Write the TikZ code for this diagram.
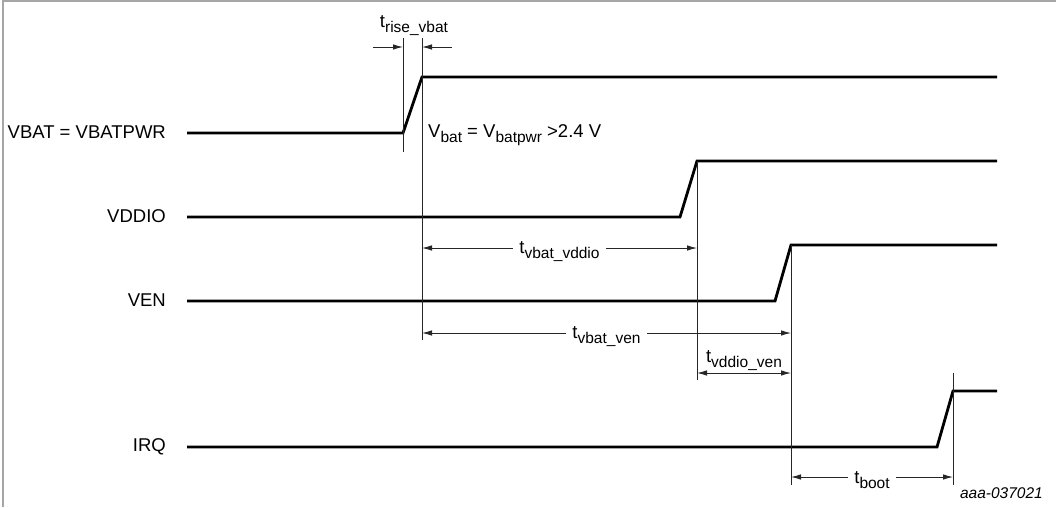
\documentclass[tikz,border=0pt]{standalone}
\usepackage{fontspec}
\setmainfont{Liberation Sans}
\usetikzlibrary{arrows.meta}
\newcommand\mysub[1]{\raisebox{-0.28em}{\fontsize{15.5}{15.5}\selectfont #1}}
\begin{document}
\begin{tikzpicture}[x=1pt,y=-1pt,
  sig/.style={line width=2.8pt, line join=miter, line cap=butt},
  guide/.style={line width=0.9pt, draw=black!85},
  dim/.style={guide, -{Latex[length=10pt,width=5.5pt]}},
  dimboth/.style={guide, {Latex[length=10pt,width=5.5pt]}-{Latex[length=10pt,width=5.5pt]}},
  lab/.style={font=\fontsize{18.5}{18.5}\selectfont, inner sep=0pt},
  dlab/.style={lab, fill=white, inner xsep=6pt, anchor=base},
  ]
\useasboundingbox (0,0) rectangle (1056,507);
\fill[white] (0,0) rectangle (1056,507);
\draw[black!35, line width=1.5pt] (3,507) -- (3,0.8) -- (1056,0.8);

% signal labels
\node[lab, anchor=base east] (lvbat) at (166,138) {VBAT = VBATPWR};
\node[lab, anchor=base east] (lvddio) at (166,222) {VDDIO};
\node[lab, anchor=base east] (lven) at (166,306) {VEN};
\node[lab, anchor=base east] (lirq) at (166,451) {IRQ};

% waveforms
\coordinate (b0) at (187,133); \coordinate (b1) at (403,133);
\coordinate (b2) at (422,77);  \coordinate (b3) at (997,77);
\draw[sig] (b0) -- (b1) -- (b2) -- (b3);

\coordinate (d0) at (187,217); \coordinate (d1) at (680,217);
\coordinate (d2) at (697,161); \coordinate (d3) at (997,161);
\draw[sig] (d0) -- (d1) -- (d2) -- (d3);

\coordinate (e0) at (187,301); \coordinate (e1) at (775,301);
\coordinate (e2) at (791,245); \coordinate (e3) at (997,245);
\draw[sig] (e0) -- (e1) -- (e2) -- (e3);

\coordinate (i0) at (187,447); \coordinate (i1) at (937,447);
\coordinate (i2) at (953,391); \coordinate (i3) at (997,391);
\draw[sig] (i0) -- (i1) -- (i2) -- (i3);

% vertical guides
\coordinate (v1t) at (403,38);  \coordinate (v1b) at (403,152);
\coordinate (v2t) at (422,38);  \coordinate (v2b) at (422,340);
\coordinate (v3t) at (697,161); \coordinate (v3b) at (697,380);
\coordinate (v4t) at (791,245); \coordinate (v4b) at (791,485);
\coordinate (v5t) at (953,373); \coordinate (v5b) at (953,485);
\draw[guide] (v1t) -- (v1b);
\draw[guide] (v2t) -- (v2b);
\draw[guide] (v3t) -- (v3b);
\draw[guide] (v4t) -- (v4b);
\draw[guide] (v5t) -- (v5b);

% t_rise_vbat
\coordinate (r1) at (373,47); \coordinate (r1e) at (403,47);
\coordinate (r2) at (452,47); \coordinate (r2e) at (422,47);
\draw[dim] (r1) -- (r1e);
\draw[dim] (r2) -- (r2e);
\node[lab, anchor=base] (trise) at (414,27) {t\mysub{rise\_vbat}};

\node[lab, anchor=base west] (vbatlab) at (428,137) {V\mysub{bat} = V\mysub{batpwr} >2.4 V};

% dimension arrows
\coordinate (a1) at (422,248); \coordinate (a2) at (697,248);
\draw[dimboth] (a1) -- node[dlab, yshift=-5.5pt] (tvd) {t\mysub{vbat\_vddio}} (a2);

\coordinate (c1) at (422,333); \coordinate (c2) at (791,333);
\draw[dimboth] (c1) -- node[dlab, yshift=-5pt] (tve) {t\mysub{vbat\_ven}} (c2);

\coordinate (f1) at (697,373); \coordinate (f2) at (791,373);
\draw[dimboth] (f1) -- (f2);
\node[lab, anchor=base] (tdv) at (744,362) {t\mysub{vddio\_ven}};

\coordinate (g1) at (791,477); \coordinate (g2) at (953,477);
\draw[dimboth] (g1) -- node[dlab, yshift=-6pt] (tb) {t\mysub{boot}} (g2);

\node[font=\fontsize{15.5}{15.5}\selectfont\itshape, inner sep=0pt, anchor=base east] (ref) at (1043,498) {aaa-037021};
\end{tikzpicture}
\end{document}
